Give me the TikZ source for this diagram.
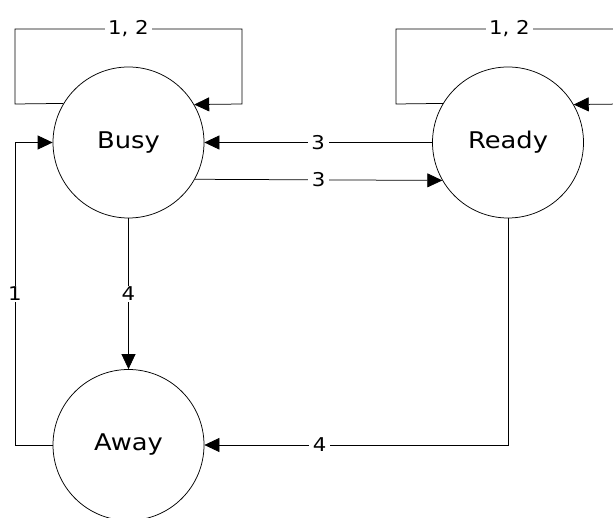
\documentclass[tikz,border=0pt]{standalone}
\usepackage{fontspec}
\setmainfont{DejaVu Sans}[FakeStretch=1.12]
\usetikzlibrary{arrows.meta}
\begin{document}
\begin{tikzpicture}[x=1pt,y=-1pt,
  state/.style={circle,draw,line width=0.75pt,minimum size=151pt,inner sep=0pt,font=\fontsize{23}{27}\selectfont},
  link/.style={line width=0.75pt,-{Triangle[length=15pt,width=14pt]}},
  lbl/.style={fill=white,inner xsep=3.5pt,inner ysep=1pt,font=\fontsize{19}{23}\selectfont}]
\useasboundingbox (0,0) rectangle (613,518);

% states
\node[state] (busy)  at (128.5,142.5) {Busy};
\node[state] (ready) at (508,142.5)   {Ready};
\node[state] (away)  at (128.5,445)   {Away};

% self loops
\draw[link] (busy.149.4) -- (15,104) -- (15,29) -- node[lbl] {1, 2} (242,29) -- (242,104) -- (busy.30.6);
\draw[link] (ready.149.4) -- (396,104) -- (396,29) -- node[lbl] {1, 2} (623,29) -- (623,104) -- (ready.30.6);

% transitions between Busy and Ready
\draw[link] (ready.west) -- node[lbl] {3} (busy.east);
\draw[link] (busy.-29.8) -- node[lbl] {3} (ready.-150.2);

% transitions involving Away
\draw[link] (busy.south) -- node[lbl] {4} (away.north);
\draw[link] (away.west) -- (15,445) -- node[lbl] {1} (15,142.5) -- (busy.west);
\draw[link] (ready.south) -- (508,445) -- node[lbl,pos=0.62] {4} (away.east);
\end{tikzpicture}
\end{document}
